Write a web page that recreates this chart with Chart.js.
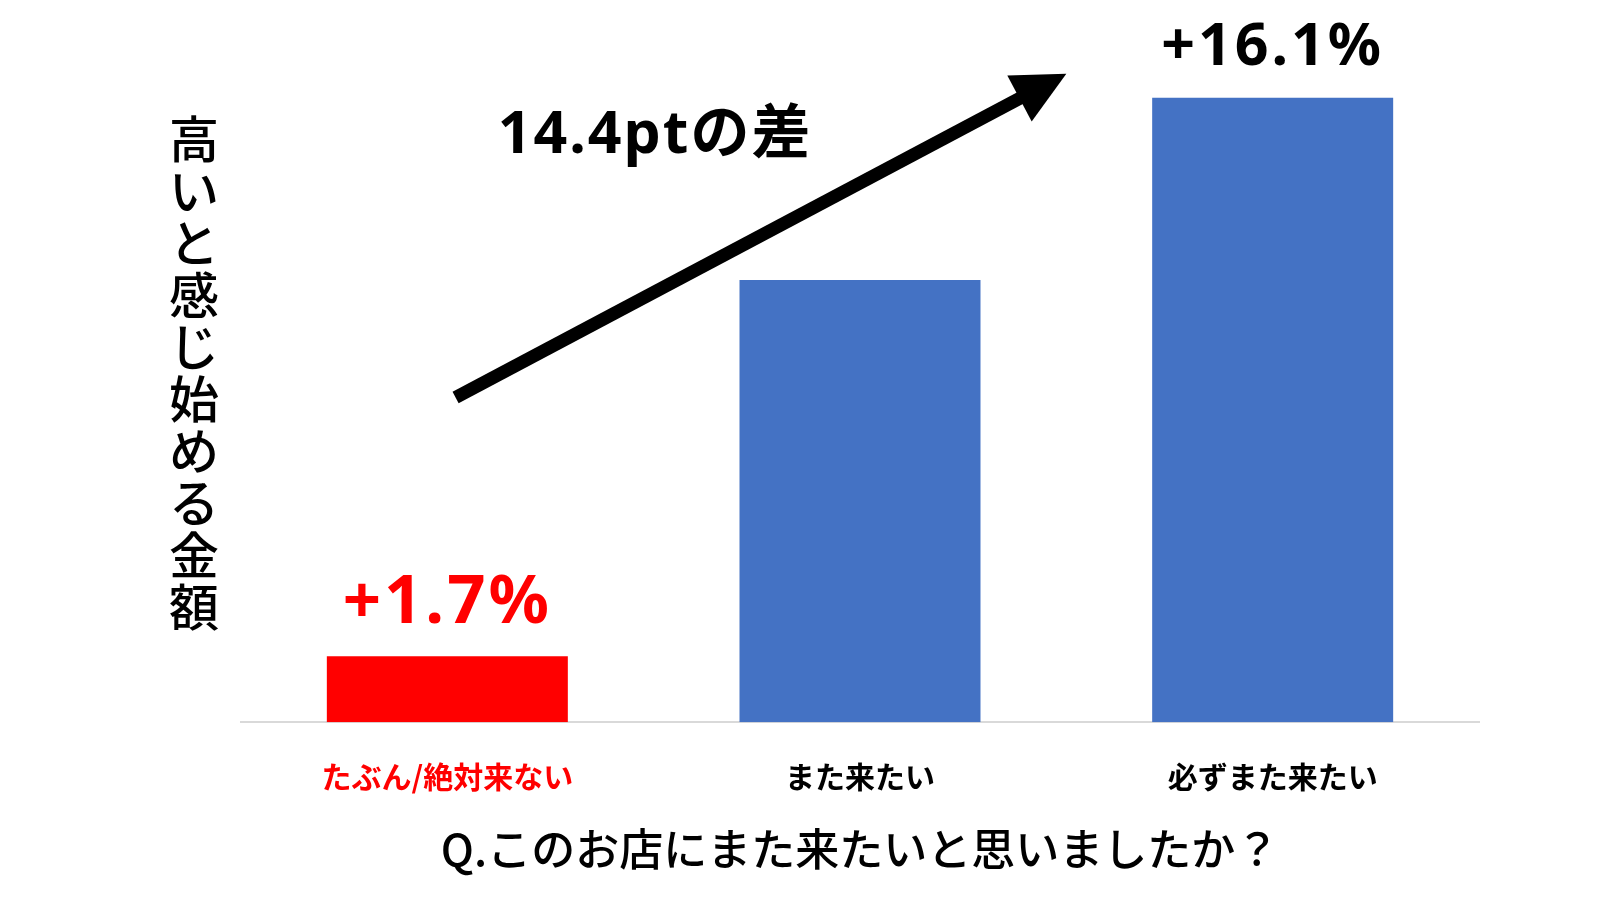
<!DOCTYPE html>
<html lang="ja">
<head>
<meta charset="utf-8">
<title>また来たい度と価格感</title>
<script src="https://cdn.jsdelivr.net/npm/chart.js@4.4.1/dist/chart.umd.min.js"></script>
<style>
  html, body { margin: 0; padding: 0; background: #fff; }
  #wrap { width: 1600px; height: 900px; position: relative; }
</style>
</head>
<body>
<div id="wrap"><canvas id="chart"></canvas></div>
<script>
// --- data ---
const categories = ['たぶん/絶対来ない', 'また来たい', '必ずまた来たい'];
const values = [1.7, 11.4, 16.1];           // % (高いと感じ始める金額の上昇率)
const valueLabels = ['+1.7%', '', '+16.1%'];
const barColors = ['#ff0000', '#4472c4', '#4472c4'];
const tickColors = ['#ff0000', '#000000', '#000000'];
const gapLabel = '14.4ptの差';
const yTitle = '高いと感じ始める金額';
const xTitle = 'Q.このお店にまた来たいと思いましたか？';

const LATIN = '"Noto Sans", "Noto Sans CJK JP", sans-serif';
const CJK = '"Noto Sans CJK JP", "Noto Sans", sans-serif';

// annotations: value labels, arrow, gap text, vertical y title
const annotations = {
  id: 'annotations',
  afterDatasetsDraw(chart) {
    const ctx = chart.ctx;
    const xs = chart.scales.x, ys = chart.scales.y;
    const area = chart.chartArea;
    const bars = chart.getDatasetMeta(0).data;

    ctx.save();
    // value labels above bars
    ctx.textAlign = 'center';
    ctx.textBaseline = 'alphabetic';
    bars.forEach((bar, i) => {
      if (!valueLabels[i]) return;
      const size = i === 0 ? 67 : 59;
      ctx.font = 'bold ' + size + 'px ' + LATIN;
      ctx.letterSpacing = '3px';
      ctx.fillStyle = i === 0 ? '#ff0000' : '#000000';
      ctx.fillText(valueLabels[i], bar.x, bar.y - 33);
    });

    // arrow from low bar towards high bar
    const x0 = xs.getPixelForValue(0.02), y0 = ys.getPixelForValue(8.37);
    const x1 = xs.getPixelForValue(1.5), y1 = ys.getPixelForValue(16.72);
    const len = Math.hypot(x1 - x0, y1 - y0);
    const ux = (x1 - x0) / len, uy = (y1 - y0) / len;
    const headLen = 53, headHalf = 26;
    const bx = x1 - ux * headLen, by = y1 - uy * headLen;
    ctx.strokeStyle = '#000';
    ctx.lineWidth = 13;
    ctx.lineCap = 'butt';
    ctx.beginPath();
    ctx.moveTo(x0, y0);
    ctx.lineTo(bx + ux * 2, by + uy * 2);
    ctx.stroke();
    ctx.fillStyle = '#000';
    ctx.beginPath();
    ctx.moveTo(x1, y1);
    ctx.lineTo(bx - uy * headHalf, by + ux * headHalf);
    ctx.lineTo(bx + uy * headHalf, by - ux * headHalf);
    ctx.closePath();
    ctx.fill();

    // gap text
    ctx.letterSpacing = '2px';
    ctx.font = 'bold 59px ' + LATIN;
    ctx.textAlign = 'left';
    ctx.fillText(gapLabel, xs.getPixelForValue(0.122), ys.getPixelForValue(14.68));

    // vertical y-axis title, characters upright
    ctx.letterSpacing = '0px';
    ctx.font = '500 50px ' + CJK;
    ctx.textAlign = 'center';
    ctx.textBaseline = 'middle';
    const chars = Array.from(yTitle);
    const step = 52;
    const cy = (area.top + area.bottom) / 2;
    const cx = area.left - 47;
    chars.forEach((c, i) => {
      ctx.fillText(c, cx, cy + (i - (chars.length - 1) / 2) * step);
    });
    ctx.restore();
  }
};

new Chart(document.getElementById('chart'), {
  type: 'bar',
  data: {
    labels: categories,
    datasets: [{
      data: values,
      backgroundColor: barColors,
      borderWidth: 0,
      categoryPercentage: 1,
      barPercentage: 0.584
    }]
  },
  options: {
    responsive: true,
    maintainAspectRatio: false,
    animation: false,
    layout: { padding: { top: 24, right: 121, left: 241, bottom: 0 } },
    plugins: {
      legend: { display: false },
      tooltip: { enabled: false }
    },
    scales: {
      y: { display: false, min: 0, max: 18 },
      x: {
        grid: { display: false, drawTicks: false },
        border: { display: true, color: '#d9d9d9', width: 2 },
        ticks: {
          padding: 36,
          color: (c) => tickColors[c.index],
          font: { family: CJK, size: 30, weight: 'bold' }
        },
        title: {
          display: true,
          text: xTitle,
          color: '#000',
          font: { family: CJK, size: 44, weight: '500' },
          padding: { top: -7, bottom: 24 }
        }
      }
    }
  },
  plugins: [annotations]
});
</script>
</body>
</html>
